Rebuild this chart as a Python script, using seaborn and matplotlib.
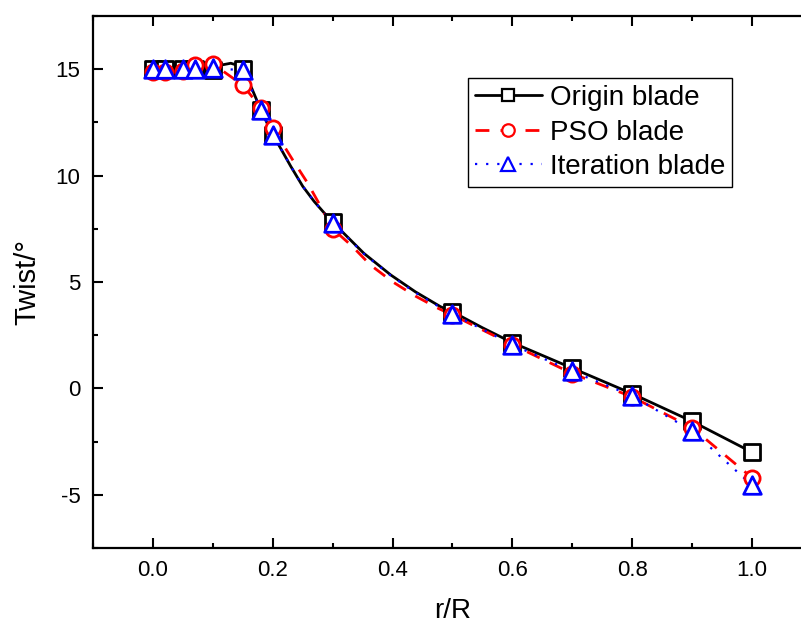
import numpy as np
import pandas as pd
import matplotlib
matplotlib.use("Agg")
import matplotlib.pyplot as plt
import seaborn as sns
from matplotlib.lines import Line2D
from matplotlib.ticker import MultipleLocator

# marker positions (r/R) shared by all three blades
r_pts = [0.0, 0.02, 0.05, 0.07, 0.10, 0.15, 0.18, 0.20, 0.30, 0.50, 0.60, 0.70, 0.80, 0.90, 1.00]
origin_pts = [15.0, 15.0, 15.0, 15.0, 14.95, 15.0, 13.1, 11.9, 7.8, 3.6, 2.15, 0.95, -0.25, -1.55, -3.0]
pso_pts = [14.85, 14.85, 14.9, 15.2, 15.25, 14.25, 13.2, 12.25, 7.5, 3.45, 2.05, 0.7, -0.4, -1.85, -4.2]
iter_pts = [15.0, 15.0, 15.0, 15.0, 15.05, 14.95, 13.1, 11.9, 7.75, 3.5, 2.05, 0.8, -0.35, -2.0, -4.55]

# smoothed curves
origin_curve_r = [0.0, 0.10, 0.115, 0.13, 0.145, 0.15, 0.165, 0.18, 0.20, 0.208, 0.23, 0.25, 0.269,
                  0.291, 0.30, 0.31, 0.352, 0.397, 0.438, 0.48, 0.50, 0.55, 0.60, 0.65, 0.70,
                  0.80, 0.90, 1.00]
origin_curve_t = [15.0, 15.0, 15.2, 15.28, 15.15, 15.0, 14.1, 13.1, 11.9, 11.54, 10.44, 9.5, 8.79,
                  8.08, 7.8, 7.53, 6.35, 5.33, 4.54, 3.84, 3.6, 2.85, 2.15, 1.55, 0.95,
                  -0.25, -1.55, -3.0]
pso_curve_r = [0.0, 0.02, 0.05, 0.07, 0.10, 0.15, 0.18, 0.20, 0.233, 0.258, 0.28, 0.30, 0.333,
               0.363, 0.40, 0.438, 0.477, 0.50, 0.60, 0.70, 0.80, 0.90, 1.00]
pso_curve_t = [14.85, 14.85, 14.9, 15.2, 15.25, 14.25, 13.2, 12.25, 10.75, 9.66, 8.55, 7.5, 6.67,
               5.8, 5.01, 4.34, 3.75, 3.45, 2.05, 0.7, -0.4, -1.85, -4.2]
iter_curve_r = [0.0, 0.02, 0.05, 0.07, 0.10, 0.15, 0.18, 0.20, 0.208, 0.23, 0.25, 0.269, 0.291,
                0.30, 0.31, 0.352, 0.397, 0.438, 0.48, 0.50, 0.60, 0.70, 0.80, 0.90, 1.00]
iter_curve_t = [15.0, 15.0, 15.0, 15.0, 15.05, 14.95, 13.1, 11.9, 11.54, 10.44, 9.5, 8.79, 8.08,
                7.75, 7.5, 6.33, 5.3, 4.5, 3.8, 3.5, 2.05, 0.8, -0.35, -2.0, -4.55]

labels = ["Origin blade", "PSO blade", "Iteration blade"]

sns.set_style("ticks")
plt.rcParams["font.family"] = ["Liberation Sans", "DejaVu Sans"]
plt.rcParams.update({"text.color": "black", "axes.labelcolor": "black", "axes.edgecolor": "black",
                     "xtick.color": "black", "ytick.color": "black"})

fig = plt.figure(figsize=(8.01, 6.25), dpi=100)
ax = fig.add_axes([0.1161, 0.1232, 0.8976, 0.8512])

curves = [
    (origin_curve_r, origin_curve_t, "black", 2.0),
    (pso_curve_r, pso_curve_t, "red", 2.0),
    (iter_curve_r, iter_curve_t, "blue", 1.6),
]
for cr, ct, col, lw in curves:
    d = pd.DataFrame({"r": cr, "t": ct})
    sns.lineplot(data=d, x="r", y="t", color=col, ax=ax, sort=False, lw=lw)

lines = ax.get_lines()
lines[1].set_dashes((5, 4))
lines[2].set_dashes((1, 4))

markers = [(origin_pts, "black", "s", 120), (pso_pts, "red", "o", 120), (iter_pts, "blue", "^", 160)]
for i, (vals, col, mk, sz) in enumerate(markers):
    d = pd.DataFrame({"r": r_pts, "t": vals})
    sns.scatterplot(data=d, x="r", y="t", marker=mk, s=sz, facecolor="white",
                    edgecolor=col, linewidth=2, ax=ax, zorder=3 + i)

ax.set_xlim(-0.1, 1.1)
ax.set_ylim(-7.5, 17.5)
ax.xaxis.set_minor_locator(MultipleLocator(0.1))
ax.yaxis.set_minor_locator(MultipleLocator(2.5))
ax.set_xticks(np.arange(0, 1.01, 0.2))
ax.set_xticklabels(["0.0", "0.2", "0.4", "0.6", "0.8", "1.0"])
ax.set_yticks([-5, 0, 5, 10, 15])
ax.set_yticklabels(["-5", "0", "5", "10", "15"])
ax.tick_params(which="both", direction="in", top=True, right=True, width=1.5, labelsize=16, pad=9)
ax.tick_params(which="major", length=7)
ax.tick_params(which="minor", length=3.5)
for sp in ax.spines.values():
    sp.set_linewidth(1.6)
    sp.set_color("black")

ax.set_xlabel("r/R", fontsize=20, labelpad=12)
ax.set_ylabel("Twist/°", fontsize=21, labelpad=10)

handles = [
    Line2D([], [], color="black", lw=2, marker="s", ms=9, mfc="white", mew=1.6),
    Line2D([], [], color="red", lw=2, ls=(0, (5, 4)), marker="o", ms=9, mfc="white", mew=1.6),
    Line2D([], [], color="blue", lw=1.6, ls=(0, (1, 4)), marker="^", ms=10, mfc="white", mew=1.6),
]
leg = ax.legend(handles, labels, loc="upper left", bbox_to_anchor=(0.5216, 0.883), fontsize=20,
                frameon=True, fancybox=False, framealpha=1, edgecolor="black", borderaxespad=0,
                handlelength=2.4, handletextpad=0.3, labelspacing=0.3, borderpad=0.25)
leg.get_frame().set_linewidth(1.0)

fig.savefig("out.png", dpi=100)
